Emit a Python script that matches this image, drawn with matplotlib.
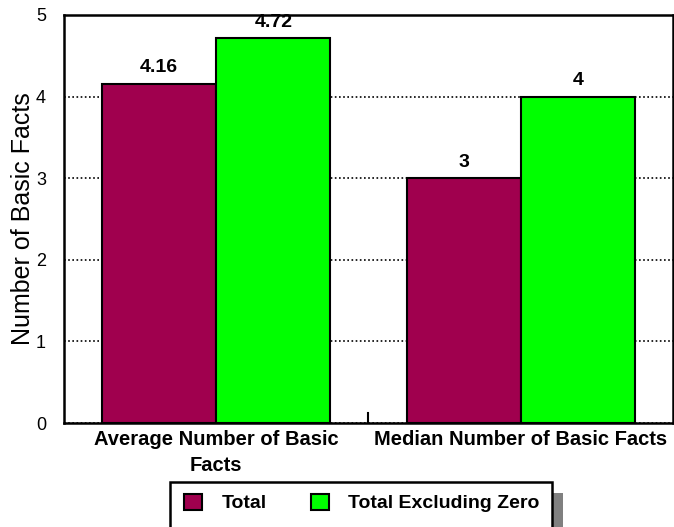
import matplotlib
matplotlib.use("Agg")
import matplotlib.pyplot as plt
from matplotlib.patches import Rectangle
import numpy as np

categories = ["Average Number of Basic\nFacts", "Median Number of Basic Facts"]
total = [4.16, 3]
total_excl_zero = [4.72, 4]
total_labels = ["4.16", "3"]
excl_labels = ["4.72", "4"]
series_names = ["Total", "Total Excluding Zero"]

plt.rcParams['font.family'] = ['Liberation Sans', 'DejaVu Sans']

fig = plt.figure(figsize=(6.74, 5.27), dpi=100)
ax = fig.add_axes([64/674, 1 - 423/527, (673-64)/674, (423-15)/527])

x = np.arange(len(categories))
w = 0.375
b1 = ax.bar(x - w/2, total, w, color="#A0004E", edgecolor="black", linewidth=1.5, label=series_names[0], zorder=3)
b2 = ax.bar(x + w/2, total_excl_zero, w, color="#00FF00", edgecolor="black", linewidth=1.5, label=series_names[1], zorder=3)

for i in range(len(x)):
    ax.text(x[i] - w/2, total[i] + 0.09, total_labels[i], ha="center", va="bottom",
            fontsize=14, fontweight="bold")
    ax.text(x[i] + w/2, total_excl_zero[i] + 0.09, excl_labels[i], ha="center", va="bottom",
            fontsize=14, fontweight="bold")

ax.set_xlim(-0.5, 1.5)
ax.set_ylim(0, 5)
ax.set_yticks([0, 1, 2, 3, 4, 5])
ax.tick_params(axis="y", length=0, labelsize=13, pad=13)
ax.set_xticks(x)
ax.set_xticklabels(categories, fontsize=14.5, fontweight="bold", linespacing=1.45)
ax.tick_params(axis="x", length=0, pad=5)
ax.yaxis.grid(True, linestyle=(0, (1, 1.5)), color="black", linewidth=1.2, zorder=1)
ax.set_axisbelow(True)
# separator tick between the two groups
ax.plot([0.5, 0.5], [0, 0.12], color="black", linewidth=1.5, zorder=2)

for s in ax.spines.values():
    s.set_linewidth(1.8)
    s.set_color("black")

ax.set_ylabel("Number of Basic Facts", fontsize=18, va="center")
ax.yaxis.set_label_coords(-0.068, 0.5)

leg = fig.legend(handles=[b1, b2], loc="upper center", bbox_to_anchor=(362/674, 1 - 482/527),
                 ncol=2, frameon=False, prop={"weight": "bold", "size": 14},
                 handlelength=0.9, handleheight=0.9, columnspacing=2.3, borderpad=0.6,
                 handletextpad=1.0, borderaxespad=0)
leg.set_zorder(6)

# legend frame runs off the bottom of the figure, with a grey drop shadow
fx0, fx1, fy1 = 170/674, 552/674, 1 - 482/527
shadow = Rectangle((fx0 + 11/674, -0.1), fx1 - fx0, fy1 - 11/527 + 0.1,
                   transform=fig.transFigure, facecolor="#808080", edgecolor="none", zorder=4)
frame = Rectangle((fx0, -0.1), fx1 - fx0, fy1 + 0.1, transform=fig.transFigure,
                  facecolor="white", edgecolor="black", linewidth=1.8, zorder=5)
fig.patches.extend([shadow, frame])

fig.savefig("out.png", dpi=100)
